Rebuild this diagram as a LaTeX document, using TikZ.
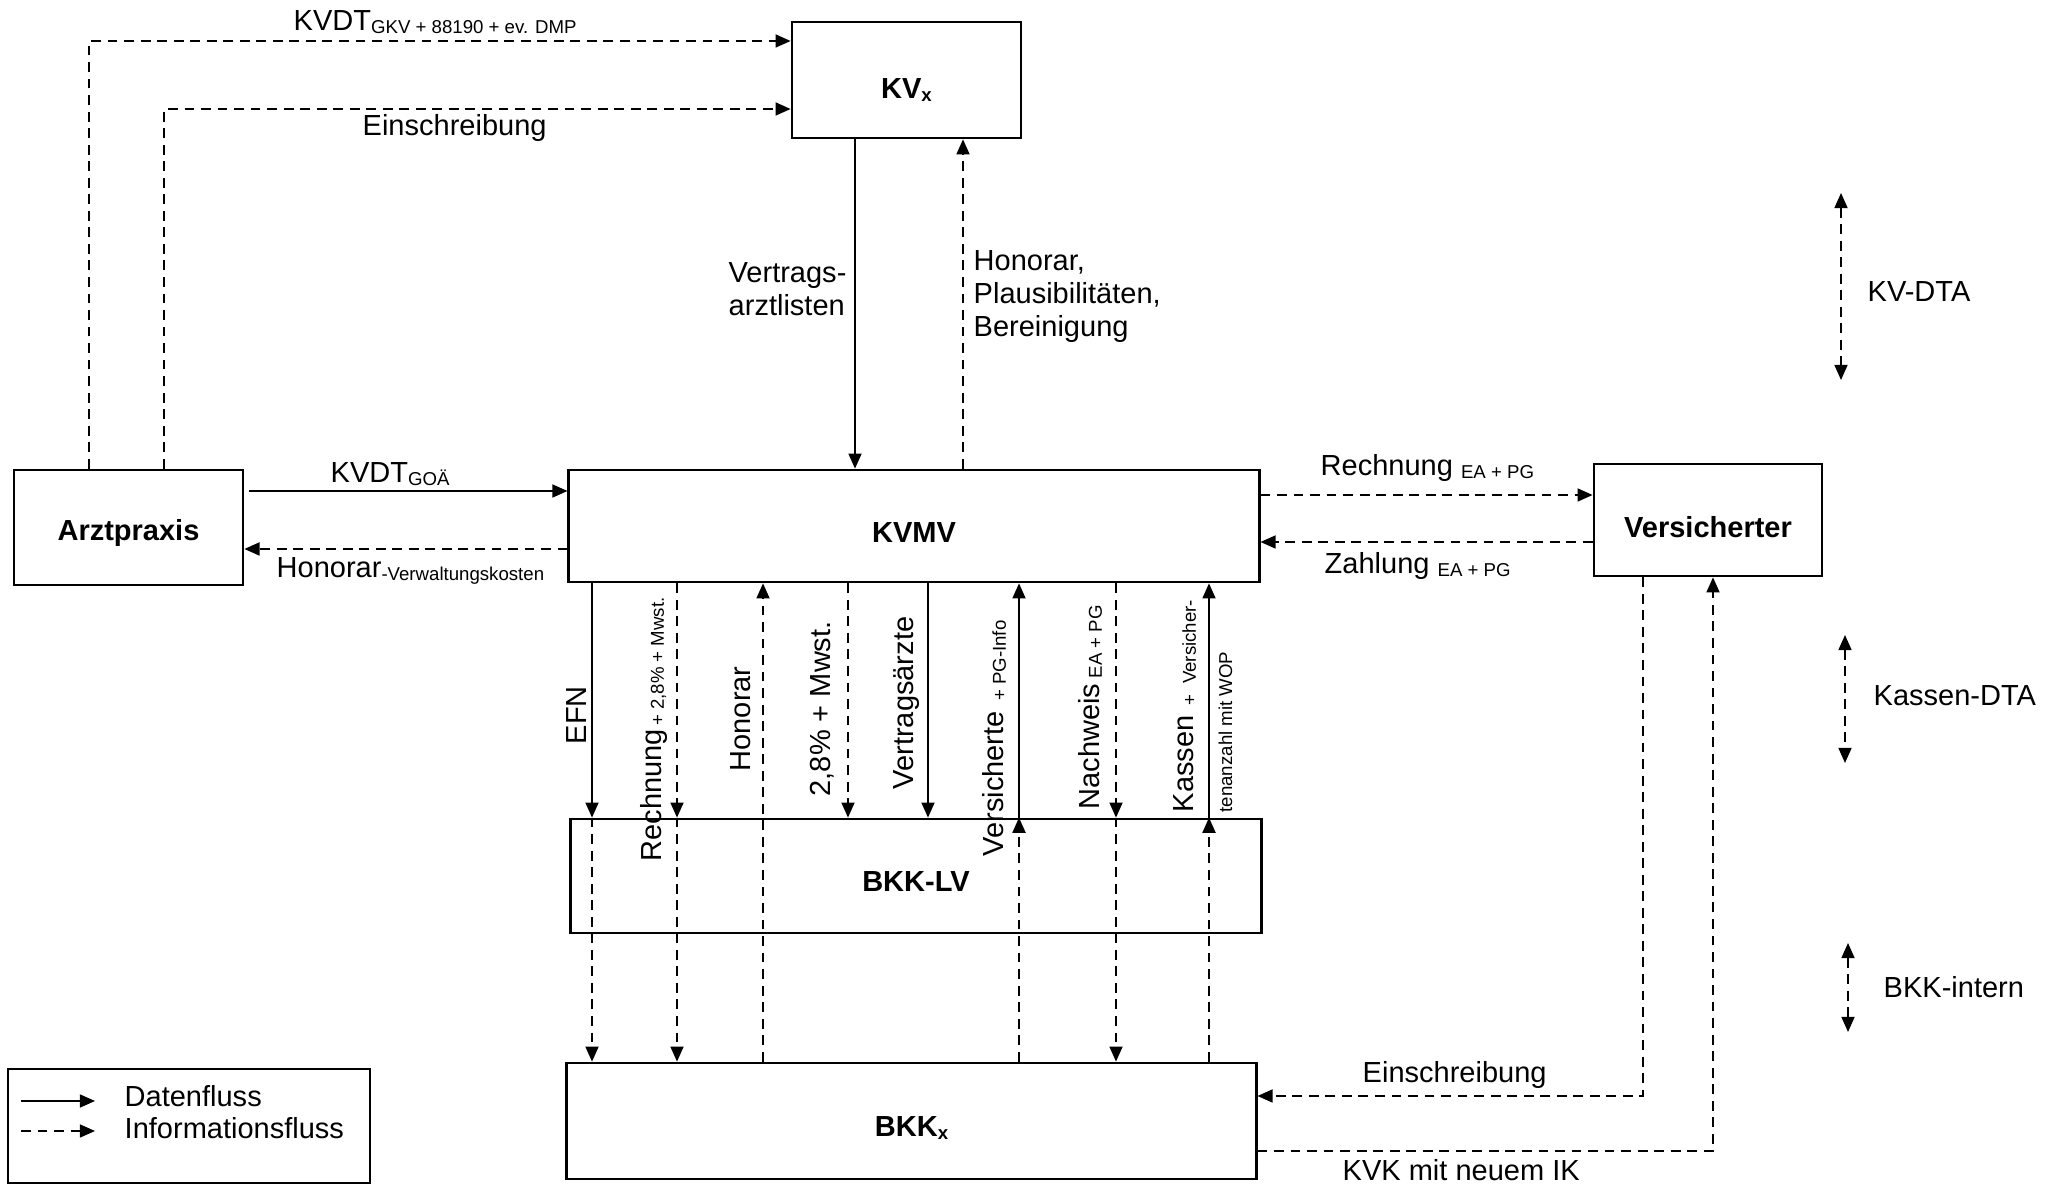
\documentclass[tikz,border=0pt]{standalone}
\usepackage{fontspec}
\setmainfont{Liberation Sans}
\usetikzlibrary{arrows.meta}
\newcommand\lsub[1]{\raisebox{-0.8pt}{\fontsize{5.3}{6.4}\selectfont #1}}
\newcommand\boxtxt[2][2pt]{\raisebox{-#1}[\height][\depth]{#2}}
\tikzset{
 boxnode/.style={draw, line width=0.75pt, inner sep=0pt, font=\fontsize{8.25}{9.4}\selectfont\bfseries},
 headtip/.style={-{Triangle[length=4.3pt,width=3.7pt]}},
 dataflow/.style={line width=0.5pt, headtip},
 infoflow/.style={line width=0.5pt, dash pattern=on 2.8pt off 1.9pt, headtip},
 twoway/.style={line width=0.5pt, dash pattern=on 2.8pt off 1.9pt, {Triangle[length=4.3pt,width=3.7pt]}-{Triangle[length=4.3pt,width=3.7pt]}},
 lbl/.style={inner sep=0pt, font=\fontsize{8.25}{9.4}\selectfont, anchor=base west},
 vlbl/.style={lbl, rotate=90},
 smalllbl/.style={inner sep=0pt, font=\fontsize{5.3}{6.4}\selectfont, anchor=base west},
}
\begin{document}
\begin{tikzpicture}[x=0.01cm,y=-0.01cm]
\useasboundingbox (0,0) rectangle (2057,1186);

% boxes
\node[boxnode, minimum width=2.29cm, minimum height=1.16cm] (KVx) at (906.5,80) {\boxtxt[2.8pt]{KV\lsub{x}}};
\node[boxnode, minimum width=2.29cm, minimum height=1.15cm] (Arzt) at (128.5,527.5) {\boxtxt[1.6pt]{Arztpraxis}};
\node[boxnode, minimum width=6.90cm, minimum height=1.12cm] (KVMV) at (914,526) {\boxtxt[1.8pt]{KVMV}};
\node[boxnode, minimum width=2.28cm, minimum height=1.12cm] (Vers) at (1708,520) {\boxtxt[2.1pt]{Versicherter}};
\node[boxnode, minimum width=6.90cm, minimum height=1.14cm] (BKKLV) at (916,876) {\boxtxt[1.6pt]{BKK-LV}};
\node[boxnode, minimum width=6.89cm, minimum height=1.16cm] (BKKx) at (911.5,1121) {\boxtxt[2pt]{BKK\lsub{x}}};

% helper coordinates
\coordinate (cT1) at (89,41);
\coordinate (cT2) at (164,109);
\coordinate (xKV1) at (855,0);
\coordinate (xKV2) at (963,0);
\coordinate (yG) at (0,491);
\coordinate (yH) at (0,549);
\coordinate (yR) at (0,495);
\coordinate (yZ) at (0,542);
\coordinate (xEFN) at (592,0);
\coordinate (xRech) at (677,0);
\coordinate (xHon) at (763,0);
\coordinate (xPct) at (848,0);
\coordinate (xVA) at (928,0);
\coordinate (xVers) at (1019,0);
\coordinate (xNach) at (1116,0);
\coordinate (xKas) at (1209,0);
\coordinate (cE) at (1643,1096);
\coordinate (cK) at (1713,1151);

% Arztpraxis -> KVx
\draw[infoflow] (Arzt.north -| cT1) |- (KVx.west |- cT1);
\draw[infoflow] (Arzt.north -| cT2) |- (KVx.west |- cT2);
\node[lbl] (lKVDT1) at (293,31) {KVDT\lsub{GKV + 88190 + ev. DMP}};
\node[lbl] (lEin1) at (362,136) {Einschreibung};

% KVx <-> KVMV
\draw[dataflow] (KVx.south -| xKV1) -- (KVMV.north -| xKV1);
\draw[infoflow] (KVMV.north -| xKV2) -- (KVx.south -| xKV2);
\node[lbl, anchor=north west, align=left] (lVal) at (728,262) {Vertrags-\\arztlisten};
\node[lbl, anchor=north west, align=left] (lHPB) at (973,250) {Honorar,\\Plausibilitäten,\\Bereinigung};

% Arztpraxis <-> KVMV
\draw[dataflow, shorten <=1.4pt] (Arzt.east |- yG) -- (KVMV.west |- yG);
\draw[infoflow] (KVMV.west |- yH) -- (Arzt.east |- yH);
\node[lbl] (lKVDT2) at (330,483) {KVDT\lsub{GOÄ}};
\node[lbl] (lHon) at (276,578) {Honorar\lsub{-Verwaltungskosten}};

% KVMV <-> Versicherter
\draw[infoflow] (KVMV.east |- yR) -- (Vers.west |- yR);
\draw[infoflow] (Vers.west |- yZ) -- (KVMV.east |- yZ);
\node[lbl] (lRech) at (1320,476) {Rechnung \lsub{EA + PG}};
\node[lbl] (lZahl) at (1324,574) {Zahlung \lsub{EA + PG}};

% KVMV <-> BKK-LV <-> BKKx
\draw[dataflow] (KVMV.south -| xEFN) -- (BKKLV.north -| xEFN);
\draw[infoflow] (BKKLV.north -| xEFN) -- (BKKx.north -| xEFN);
\draw[infoflow] (KVMV.south -| xRech) -- (BKKLV.north -| xRech);
\draw[infoflow] (BKKLV.north -| xRech) -- (BKKx.north -| xRech);
\draw[infoflow] (BKKx.north -| xHon) -- (KVMV.south -| xHon);
\draw[infoflow] (KVMV.south -| xPct) -- (BKKLV.north -| xPct);
\draw[dataflow] (KVMV.south -| xVA) -- (BKKLV.north -| xVA);
\draw[dataflow] (BKKLV.north -| xVers) -- (KVMV.south -| xVers);
\draw[infoflow] (BKKx.north -| xVers) -- (BKKLV.north -| xVers);
\draw[infoflow] (KVMV.south -| xNach) -- (BKKLV.north -| xNach);
\draw[infoflow] (BKKLV.north -| xNach) -- (BKKx.north -| xNach);
\draw[dataflow] (BKKLV.north -| xKas) -- (KVMV.south -| xKas);
\draw[infoflow] (BKKx.north -| xKas) -- (BKKLV.north -| xKas);

\node[vlbl] (vEFN) at (586,745) {EFN};
\node[vlbl] (vRech) at (661,862) {Rechnung\lsub{\,+ 2,8\% + Mwst.}};
\node[vlbl] (vHon) at (750,772) {Honorar};
\node[vlbl] (vPct) at (830,797) {2,8\% + Mwst.};
\node[vlbl] (vVA) at (913,790) {Vertragsärzte};
\node[vlbl] (vVers) at (1003,857) {Versicherte\lsub{\ \ + PG-Info}};
\node[vlbl] (vNach) at (1099,810) {Nachweis\lsub{\ EA + PG}};
\node[vlbl] (vKas) at (1193,813) {Kassen\lsub{\ \ +\ \ Versicher-}};
\node[smalllbl, rotate=90] (vKas2) at (1232,813) {tenanzahl mit WOP};

% Versicherter <-> BKKx
\draw[infoflow] (Vers.south -| cE) |- (BKKx.east |- cE);
\draw[infoflow] (BKKx.east |- cK) -| (Vers.south -| cK);
\node[lbl] (lEin2) at (1362,1083) {Einschreibung};
\node[lbl] (lKVK) at (1342,1181) {KVK mit neuem IK};

% right side levels
\coordinate (kvT) at (1841,193);
\coordinate (kvB) at (1841,380);
\coordinate (kaT) at (1845,635);
\coordinate (kaB) at (1845,763);
\coordinate (biT) at (1848,943);
\coordinate (biB) at (1848,1032);
\draw[twoway] (kvT) -- (kvB);
\draw[twoway] (kaT) -- (kaB);
\draw[twoway] (biT) -- (biB);
\node[lbl] (lKVDTA) at (1867,302) {KV-DTA};
\node[lbl] (lKADTA) at (1873,706) {Kassen-DTA};
\node[lbl] (lBKKi) at (1883,998) {BKK-intern};

% legend
\node[draw, line width=0.75pt, minimum width=3.62cm, minimum height=1.14cm, inner sep=0pt] (legend) at (189,1126) {};
\coordinate (lg1a) at (21,1101);
\coordinate (lg1b) at (95,1101);
\coordinate (lg2a) at (21,1131);
\coordinate (lg2b) at (95,1131);
\draw[dataflow] (lg1a) -- (lg1b);
\draw[infoflow] (lg2a) -- (lg2b);
\node[lbl] (lDat) at (124,1107) {Datenfluss};
\node[lbl] (lInf) at (124,1139) {Informationsfluss};
\end{tikzpicture}
\end{document}
